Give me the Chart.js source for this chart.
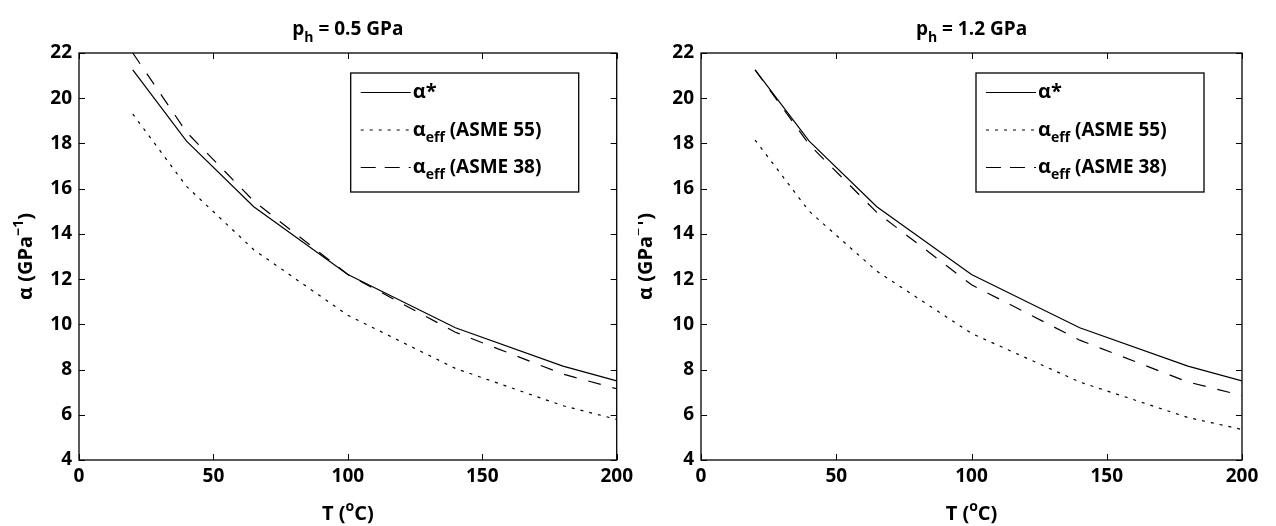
<!DOCTYPE html>
<html>
<head>
<meta charset="utf-8">
<script src="https://cdn.jsdelivr.net/npm/chart.js@4.4.1/dist/chart.umd.min.js"></script>
<style>
  html, body { margin: 0; padding: 0; background: #fff; }
  #wrap { position: relative; width: 1276px; height: 526px; }
  .panel { position: absolute; top: 0; width: 638px; height: 526px; }
</style>
</head>
<body>
<div id="wrap">
  <div class="panel" style="left:0"><canvas id="left" width="638" height="526"></canvas></div>
  <div class="panel" style="left:638px"><canvas id="right" width="638" height="526"></canvas></div>
</div>
<script>
// temperatures (°C) where the curves were sampled
const temps = [20, 40, 65, 100, 140, 180, 200];

// alpha* is the same in both panels
const alphaStar = [21.25, 18.1, 15.2, 12.2, 9.85, 8.15, 7.5];

// p_h = 0.5 GPa
const asme55Low = [19.3, 16.1, 13.3, 10.4, 8.05, 6.4, 5.8];
const asme38Low = [22.0, 18.5, 15.45, 12.2, 9.65, 7.8, 7.15];

// p_h = 1.2 GPa
const asme55High = [18.15, 15.0, 12.35, 9.6, 7.45, 5.88, 5.35];
const asme38High = [21.25, 17.95, 14.95, 11.75, 9.3, 7.45, 6.85];

const xTicks = [0, 50, 100, 150, 200];
const yTicks = [4, 6, 8, 10, 12, 14, 16, 18, 20, 22];
const seriesLabels = ['α*', 'α_eff (ASME 55)', 'α_eff (ASME 38)'];

const FONT = '"Open Sans", sans-serif';
const WEIGHT = '700';
const DOTTED = [3, 6];
const DASHED = [13, 12];

const toPoints = ys => temps.map((t, i) => ({ x: t, y: ys[i] }));

// draw a run of text pieces, some raised or lowered (sub/superscripts)
function drawParts(ctx, parts, x, y, align) {
  let total = 0;
  parts.forEach(p => {
    ctx.font = `${WEIGHT} ${p.size}px ${FONT}`;
    p.w = ctx.measureText(p.t).width;
    total += p.w;
  });
  let cx = align === 'center' ? x - total / 2 : x;
  ctx.textAlign = 'left';
  ctx.textBaseline = 'alphabetic';
  parts.forEach(p => {
    ctx.font = `${WEIGHT} ${p.size}px ${FONT}`;
    ctx.fillText(p.t, cx, y + (p.dy || 0));
    cx += p.w;
  });
}

function effLabel(rest) {
  return [{ t: 'α', size: 20 }, { t: 'eff', size: 14, dy: 6 }, { t: ' ' + rest, size: 19 }];
}

const matlabFrame = {
  id: 'matlabFrame',
  afterDraw(chart, args, opts) {
    const { ctx, chartArea: a, scales } = chart;
    ctx.save();
    ctx.strokeStyle = '#000';
    ctx.fillStyle = '#000';
    ctx.lineWidth = 1.3;
    ctx.setLineDash([]);
    ctx.strokeRect(a.left, a.top, a.right - a.left, a.bottom - a.top);

    // inward tick marks on all four sides
    ctx.lineWidth = 1;
    ctx.beginPath();
    xTicks.forEach(v => {
      const px = Math.round(scales.x.getPixelForValue(v)) + 0.5;
      ctx.moveTo(px, a.bottom); ctx.lineTo(px, a.bottom - 6);
      ctx.moveTo(px, a.top); ctx.lineTo(px, a.top + 6);
    });
    yTicks.forEach(v => {
      const py = Math.round(scales.y.getPixelForValue(v)) + 0.5;
      ctx.moveTo(a.left, py); ctx.lineTo(a.left + 6, py);
      ctx.moveTo(a.right, py); ctx.lineTo(a.right - 6, py);
    });
    ctx.stroke();

    const midX = (a.left + a.right) / 2;
    const midY = (a.top + a.bottom) / 2;

    // panel title
    drawParts(ctx, [
      { t: 'p', size: 19 }, { t: 'h', size: 14, dy: 7 }, { t: ' = ' + opts.pressure + ' GPa', size: 19 }
    ], midX, 35, 'center');

    // x axis title
    drawParts(ctx, [
      { t: 'T (', size: 20 }, { t: 'o', size: 14, dy: -9 }, { t: 'C)', size: 20 }
    ], midX, 520, 'center');

    // y axis title
    ctx.save();
    ctx.translate(opts.yTitleX, midY);
    ctx.rotate(-Math.PI / 2);
    drawParts(ctx, [
      { t: 'α (GPa', size: 20 }, { t: '−1', size: 14, dy: -9 }, { t: ')', size: 20 }
    ], 0, 0, 'center');
    ctx.restore();

    // legend box
    const bl = a.right - 266, bt = a.top + 20, bw = 228, bh = 119;
    ctx.fillStyle = '#fff';
    ctx.fillRect(bl, bt, bw, bh);
    ctx.lineWidth = 1.3;
    ctx.strokeRect(bl, bt, bw, bh);
    ctx.fillStyle = '#000';
    const rows = [
      { dash: [], parts: [{ t: 'α*', size: 20 }] },
      { dash: DOTTED, parts: effLabel('(ASME 55)') },
      { dash: [15, 9], parts: effLabel('(ASME 38)') }
    ];
    rows.forEach((r, i) => {
      const y = bt + 19 + i * 37.5;
      ctx.lineWidth = 1;
      ctx.setLineDash(r.dash);
      ctx.beginPath();
      ctx.moveTo(bl + 10, y + 0.5);
      ctx.lineTo(bl + 60, y + 0.5);
      ctx.stroke();
      ctx.setLineDash([]);
      drawParts(ctx, r.parts, bl + 62, y + 6, 'left');
    });
    ctx.restore();
  }
};

function makeChart(id, low, high, pressure, yWidth, padRight, yTitleX) {
  new Chart(document.getElementById(id), {
    type: 'line',
    data: {
      datasets: [
        { label: seriesLabels[0], data: toPoints(alphaStar), borderDash: [] },
        { label: seriesLabels[1], data: toPoints(low), borderDash: DOTTED },
        { label: seriesLabels[2], data: toPoints(high), borderDash: DASHED }
      ].map(d => Object.assign(d, {
        borderColor: '#000', borderWidth: 1.2, pointRadius: 0, tension: 0, fill: false
      }))
    },
    options: {
      responsive: false,
      animation: false,
      layout: { padding: { top: 53, right: padRight, left: 0, bottom: 0 } },
      plugins: {
        legend: { display: false },
        tooltip: { enabled: false },
        matlabFrame: { pressure, yTitleX }
      },
      scales: {
        x: {
          type: 'linear', min: 0, max: 200,
          afterBuildTicks: s => { s.ticks = xTicks.map(v => ({ value: v })); },
          afterFit: s => { s.height = 66; },
          grid: { display: false, drawTicks: false },
          border: { display: false },
          ticks: { color: '#000', padding: 5, font: { family: FONT, size: 19, weight: WEIGHT } }
        },
        y: {
          type: 'linear', min: 4, max: 22,
          afterBuildTicks: s => { s.ticks = yTicks.map(v => ({ value: v })); },
          afterFit: s => { s.width = yWidth; },
          grid: { display: false, drawTicks: false },
          border: { display: false },
          ticks: { color: '#000', padding: 7, font: { family: FONT, size: 19, weight: WEIGHT } }
        }
      }
    },
    plugins: [matlabFrame]
  });
}

makeChart('left', asme55Low, asme38Low, '0.5', 79, 18, 32);
makeChart('right', asme55High, asme38High, '1.2', 63, 34, 14);
</script>
</body>
</html>
